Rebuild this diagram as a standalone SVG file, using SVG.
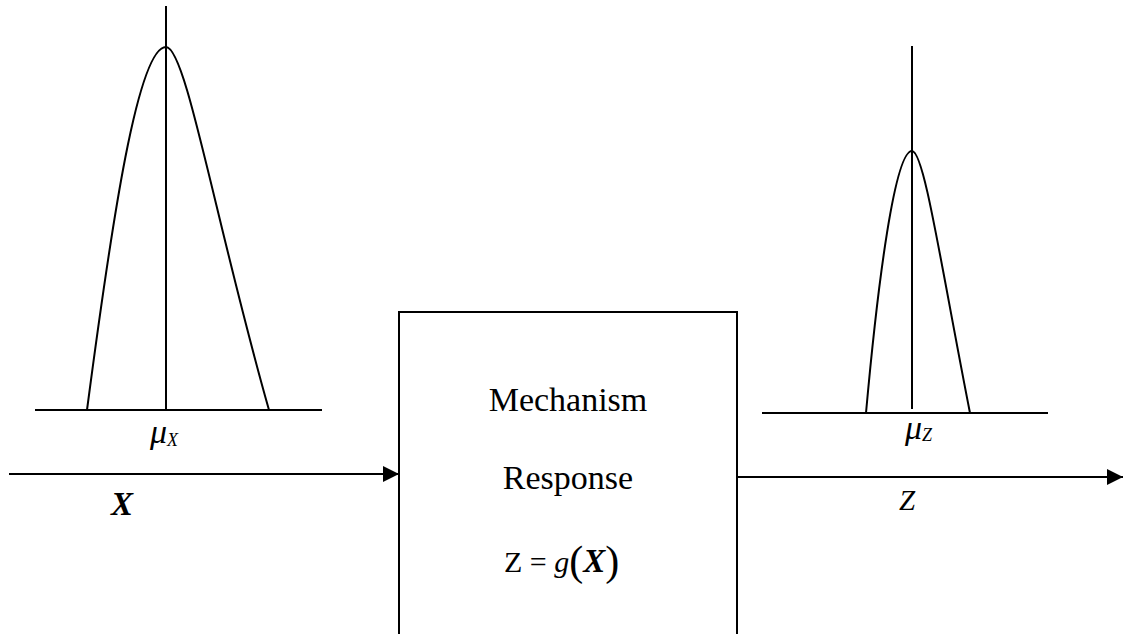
<svg xmlns="http://www.w3.org/2000/svg" width="1124" height="634" viewBox="0 0 1124 634">
<style>
.ln{stroke:#000;stroke-width:2;fill:none}
text{font-family:"Liberation Serif","DejaVu Serif",serif;fill:#000}
.it{font-style:italic}
.bi{font-style:italic;font-weight:bold}
</style>
<defs>
<marker id="arr" viewBox="0 0 16 16" refX="16" refY="8" markerWidth="16" markerHeight="16" markerUnits="userSpaceOnUse" orient="auto">
<path d="M0,0 L16,8 L0,16 Z" fill="#000"/>
</marker>
</defs>
<rect width="1124" height="634" fill="#fff"/>
<g id="input-distribution">
<line class="ln" x1="35" y1="410" x2="322" y2="410"/>
<line class="ln" x1="166" y1="6" x2="166" y2="410"/>
<path class="ln" d="M87,410 C112,220 138,47 166,47 C186,47 215,220 269,410"/>
<text font-family="Liberation Serif, serif" class="it" x="150" y="443" font-size="34">μ<tspan font-size="18" dy="3">X</tspan></text>
</g>
<g id="output-distribution">
<line class="ln" x1="762" y1="413" x2="1048" y2="413"/>
<line class="ln" x1="912" y1="46" x2="912" y2="409"/>
<path class="ln" d="M866,413 C878,280 895,151 912,151 C924,151 940,260 970,413"/>
<text font-family="Liberation Serif, serif" class="it" x="905" y="439" font-size="34">μ<tspan font-size="18" dy="2">Z</tspan></text>
</g>
<g id="mechanism">
<path class="ln" d="M399,634 L399,312 L737,312 L737,634"/>
<text font-family="Liberation Serif, serif" x="568" y="411" font-size="34" text-anchor="middle">Mechanism</text>
<text font-family="Liberation Serif, serif" x="568" y="489" font-size="34" text-anchor="middle">Response</text>
<text font-family="Liberation Serif, serif" x="504" y="572" font-size="30">Z = <tspan class="it">g</tspan><tspan font-size="42" dy="3">(</tspan><tspan class="bi" font-size="33" dy="-3">X</tspan><tspan font-size="42" dy="3">)</tspan></text>
</g>
<g id="connectors">
<line class="ln" x1="9" y1="474" x2="399" y2="474" marker-end="url(#arr)"/>
<line class="ln" x1="737" y1="477" x2="1123" y2="477" marker-end="url(#arr)"/>
</g>
<g id="labels">
<text font-family="Liberation Serif, serif" class="bi" x="111" y="515" font-size="33">X</text>
<text font-family="Liberation Serif, serif" class="it" x="899" y="510" font-size="29">Z</text>
</g>
</svg>
